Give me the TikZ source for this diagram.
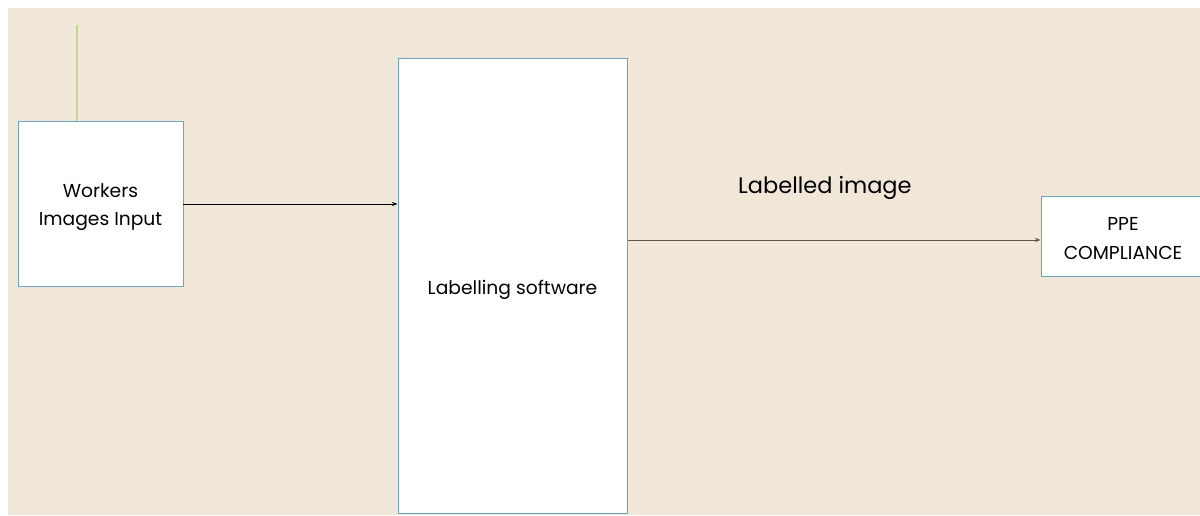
\documentclass[tikz,border=0pt]{standalone}
\usepackage{fontspec}
\setmainfont{Poppins}
\usetikzlibrary{arrows.meta,positioning}

\definecolor{slidebg}{HTML}{F1E7D9}
\definecolor{boxline}{HTML}{6AA6BC}
\definecolor{feedgreen}{HTML}{C5D98A}
\definecolor{flowline}{HTML}{5E5650}

% invisible strut to push the first line down a little
\newcommand{\topgap}[1]{\rule{0pt}{#1}}

\begin{document}
\begin{tikzpicture}[x=0.025cm, y=-0.025cm,
    block/.style={rectangle, draw=boxline, fill=white, line width=0.7pt, align=center, inner sep=0pt, font=\fontsize{13.3}{20.5}\selectfont},
    arrow/.style={-{Stealth[length=4pt, width=3pt]}, line width=0.6pt}
]
\useasboundingbox (0,0) rectangle (1200,515);
\clip (0,0) rectangle (1200,515);
\fill[slidebg] (8,8) rectangle (1200,515);

% Input, labelling and output blocks
\node[block, minimum width=165*0.025cm, minimum height=165*0.025cm] (in) at (100.5,203.5) {\topgap{15pt}Workers\\Images Input};
\node[block, minimum width=229*0.025cm, minimum height=455*0.025cm, text height=15.5pt, text depth=3pt] (lab) at (512.5,285.5) {Labelling software};
\node[block, minimum width=164*0.025cm, minimum height=80*0.025cm] (ppe) at (1123,236) {\topgap{12.5pt}PPE\\COMPLIANCE};

% green feed line on top of the input
\coordinate (feed) at (77,25);
\draw[feedgreen, line width=1.2pt] (feed) -- (feed |- in.north);

\draw[arrow, black] (in.east |- 0,204) -- (lab.west |- 0,204);
\draw[arrow, flowline] (lab.east |- 0,240) -- (ppe.west |- 0,240) node[pos=0.478, above=35*0.025cm, black, font=\fontsize{16}{19}\selectfont] {Labelled image};

\end{tikzpicture}
\end{document}
